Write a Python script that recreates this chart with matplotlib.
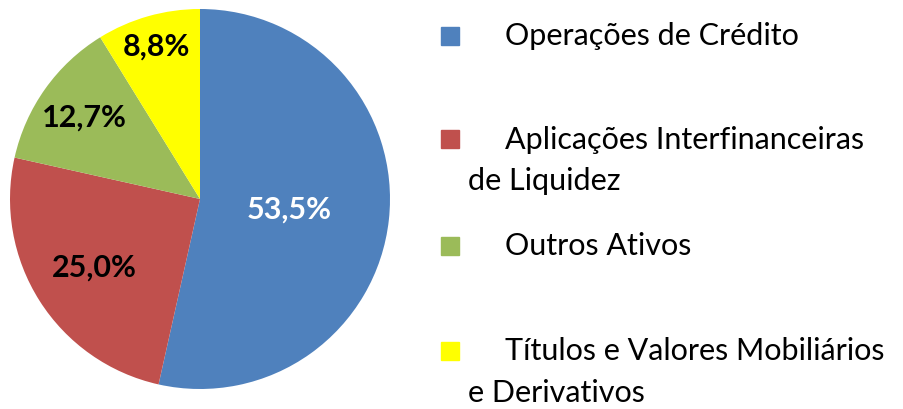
import matplotlib
matplotlib.use("Agg")
import matplotlib.pyplot as plt
from matplotlib.patches import Rectangle
import numpy as np

plt.rcParams['font.family'] = ['Lato', 'DejaVu Sans']

# data
categories = ["Operações de Crédito",
              "Aplicações Interfinanceiras\nde Liquidez",
              "Outros Ativos",
              "Títulos e Valores Mobiliários\ne Derivativos"]
shares = [53.5, 25.0, 12.7, 8.8]
pct_labels = ["53,5%", "25,0%", "12,7%", "8,8%"]
colors = ["#4F81BD", "#C0504D", "#9BBB59", "#FFFF00"]
label_colors = ["white", "black", "black", "black"]
label_dist = [0.47, 0.66, 0.75, 0.84]

W, H = 904, 410
fig = plt.figure(figsize=(W / 100, H / 100), dpi=100)
ax = fig.add_axes([10 / W, 20 / H, 380 / W, 380 / H])

wedges, _ = ax.pie(shares, colors=colors, startangle=90, counterclock=False,
                   radius=1, wedgeprops=dict(linewidth=0))
for w, lab, c, d in zip(wedges, pct_labels, label_colors, label_dist):
    ang = np.deg2rad((w.theta1 + w.theta2) / 2)
    ax.text(d * np.cos(ang), d * np.sin(ang), lab, ha="center", va="center",
            fontsize=22, fontweight="bold", color=c)
ax.set_xlim(-1, 1)
ax.set_ylim(-1, 1)
ax.set_aspect("equal")
ax.axis("off")

# legend drawn by hand to mimic the wrapped Excel legend
legend_y = [37, 140, 247, 352]
for name, col, y in zip(categories, colors, legend_y):
    fig.patches.append(Rectangle((441 / W, 1 - (y + 9) / H), 18 / W, 18 / H,
                                 transform=fig.transFigure, color=col))
    lines = name.split("\n")
    fig.text(505 / W, 1 - (y - 3) / H, lines[0], ha="left", va="center_baseline", fontsize=22)
    if len(lines) > 1:
        fig.text(468 / W, 1 - (y + 39) / H, lines[1], ha="left", va="center_baseline", fontsize=22)

fig.savefig("out.png", dpi=100)
